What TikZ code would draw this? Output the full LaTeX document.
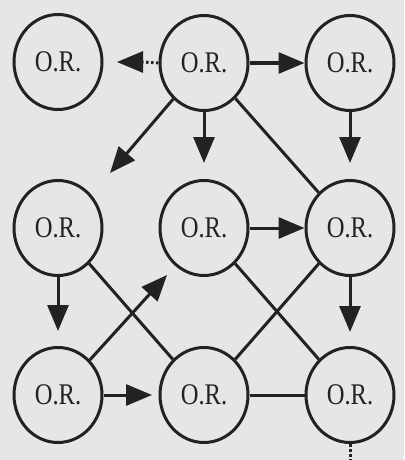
\documentclass[tikz,border=0pt]{standalone}
\usepackage{fontspec}
\setmainfont{Liberation Serif}
\usetikzlibrary{arrows.meta,shapes.geometric}
\definecolor{bg}{HTML}{E6E6E6}
\definecolor{ink}{HTML}{222222}
\begin{document}
\begin{tikzpicture}[x=1pt,y=-1pt,
  orbox/.style={ellipse,draw=ink,line width=3pt,minimum width=88pt,minimum height=95pt,inner sep=0pt,text=ink},
  conn/.style={draw=ink,line width=3pt},
  arr/.style={conn,-{Triangle[length=26pt,width=21pt]}},
  dotline/.style={conn,dash pattern=on 2.5pt off 2.5pt}]
\fill[bg] (0,0) rectangle (404,460);
\useasboundingbox (0,0) rectangle (404,460);
\newcommand{\ortext}{\scalebox{0.82}[1]{\fontsize{30}{30}\selectfont O.R.}}
\node[orbox] (a) at (58,62) {\ortext};
\node[orbox] (b) at (204,63) {\ortext};
\node[orbox] (c) at (350,63) {\ortext};
\node[orbox] (d) at (58,228) {\ortext};
\node[orbox] (e) at (204,228) {\ortext};
\node[orbox] (f) at (350,228) {\ortext};
\node[orbox] (g) at (58,395) {\ortext};
\node[orbox] (h) at (204,395) {\ortext};
\node[orbox] (i) at (350,395) {\ortext};
\coordinate (ab) at (117,62);
\coordinate (abm) at (143,62);
\coordinate (bd) at (110,173);
\coordinate (be) at (204,163);
\coordinate (cf) at (350,163);
\coordinate (dg) at (58,331);
\coordinate (ge) at (167,275);
\coordinate (gh) at (152,395);
\coordinate (fi) at (350,332);
\coordinate (iend) at (350,462);
% connectors
\draw[dotline] (b.west) -- (abm);
\draw[arr] (abm) -- (ab);
\draw[arr] (b.east) -- (c.west);
\draw[arr] (b) -- (bd);
\draw[arr] (b) -- (be);
\draw[conn] (b) -- (f);
\draw[arr] (c) -- (cf);
\draw[arr] (e.east) -- (f.west);
\draw[arr] (d) -- (dg);
\draw[conn] (d) -- (h);
\draw[arr] (g) -- (ge);
\draw[arr] (g.east) -- (gh);
\draw[conn] (e) -- (i);
\draw[conn] (f) -- (h);
\draw[arr] (f) -- (fi);
\draw[conn] (h.east) -- (i.west);
\draw[dotline] (i.south) -- (iend);
\end{tikzpicture}
\end{document}
